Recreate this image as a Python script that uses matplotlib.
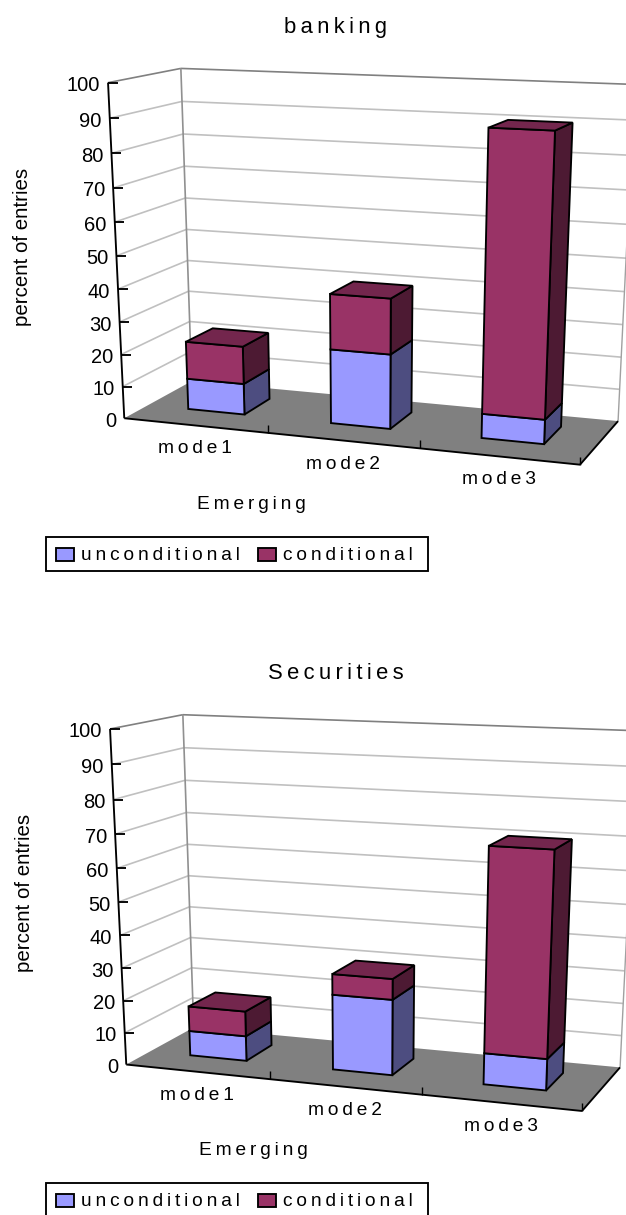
import numpy as np
import matplotlib
matplotlib.use("Agg")
import matplotlib.pyplot as plt
from matplotlib.patches import Polygon, Rectangle

plt.rcParams['font.family'] = ['Liberation Sans', 'DejaVu Sans']

modes = ["mode1", "mode2", "mode3"]
series_names = ["unconditional", "conditional"]
value_ticks = [0, 10, 20, 30, 40, 50, 60, 70, 80, 90, 100]

banking_unconditional = [9.7, 22.9, 7.4]
banking_conditional = [11.7, 16.8, 82.6]
securities_unconditional = [7.8, 23.2, 9.5]
securities_conditional = [7.8, 6.3, 60.6]

LIGHT = {"unconditional": "#9999FF", "conditional": "#993366"}
SIDE = {"unconditional": "#4D4D80", "conditional": "#4D1A33"}
TOP = {"unconditional": "#7373BF", "conditional": "#73264D"}

# box reference points: (u, v, w) -> pixel, u along modes, v up, w into the page
box_uvw = [(0, 0, 0), (1/3, 0, 0), (2/3, 0, 0), (1, 0, 0), (0, 1, 0), (0, .5, 0),
           (0, 1, 1), (0, .5, 1), (0, .2, 1), (0, 0, 1), (1, 0, 1), (1, 1, 1), (1, .5, 1)]
box_px = [(124, 418.3), (268.3, 433), (418.3, 448.3), (580.3, 465), (108.3, 82), (117, 256),
          (180, 68.3), (187.3, 230.3), (190, 320.7), (191, 381.5), (618.7, 420), (634.5, 84.4), (626, 259)]


def fit_projection(uvw, px):
    rows = []
    rhs = []
    for (u, v, w), (x, y) in zip(uvw, px):
        rows.append([u, v, w, 1, 0, 0, 0, 0, -x*u, -x*v, -x*w])
        rhs.append(x)
        rows.append([0, 0, 0, 0, u, v, w, 1, -y*u, -y*v, -y*w])
        rhs.append(y)
    sol = np.linalg.lstsq(np.array(rows), np.array(rhs), rcond=None)[0]
    return np.append(sol, 1.0).reshape(3, 4)


P = fit_projection(box_uvw, box_px)

BAR_WIDTH = 0.4 / 3
BAR_SHIFT = -0.0035
W_FRONT = 0.34
W_BACK = 0.75
LABEL_SIZE = 13.8
THIN = "\u2009"


def spaced(s):
    # wide tracking on the labels
    return THIN.join(s)


def draw_panel(ax, title, unconditional, conditional, dx, dy):
    def proj(u, v, w):
        x, y, d = P @ np.array([u, v, w, 1.0])
        return x / d + dx, y / d + dy

    def line(a, b, **kw):
        pa, pb = proj(*a), proj(*b)
        ax.plot([pa[0], pb[0]], [pa[1], pb[1]], solid_capstyle='butt', **kw)

    # walls
    for t in value_ticks[1:-1]:
        v = t / 100
        line((0, v, 0), (0, v, 1), color="#C0C0C0", lw=1.2, zorder=1)
        line((0, v, 1), (1, v, 1), color="#C0C0C0", lw=1.2, zorder=1)
    line((0, 1, 0), (0, 1, 1), color="#808080", lw=1.2, zorder=1)
    line((0, 1, 1), (1, 1, 1), color="#808080", lw=1.2, zorder=1)
    line((0, 0, 1), (0, 1, 1), color="#909090", lw=1.2, zorder=1)
    line((1, 0, 1), (1, 1, 1), color="#A0A0A0", lw=1.0, zorder=1)

    # floor
    floor = [proj(0, 0, 0), proj(1, 0, 0), proj(1, 0, 1), proj(0, 0, 1)]
    ax.add_patch(Polygon(floor, closed=True, fc="#808080", ec="none", zorder=2))

    # stacked bars
    for i in range(len(modes)):
        u0 = (i + 0.5) / 3 - BAR_WIDTH / 2 + BAR_SHIFT
        u1 = u0 + BAR_WIDTH
        base = 0.0
        for name, vals in zip(series_names, (unconditional, conditional)):
            top = base + vals[i] / 100
            front = [proj(u0, base, W_FRONT), proj(u1, base, W_FRONT),
                     proj(u1, top, W_FRONT), proj(u0, top, W_FRONT)]
            side = [proj(u1, base, W_FRONT), proj(u1, base, W_BACK),
                    proj(u1, top, W_BACK), proj(u1, top, W_FRONT)]
            for pts, col in ((side, SIDE[name]), (front, LIGHT[name])):
                ax.add_patch(Polygon(pts, closed=True, fc=col, ec="black", lw=1.35,
                                     joinstyle='miter', zorder=3))
            base = top
        lid = [proj(u0, base, W_FRONT), proj(u1, base, W_FRONT),
               proj(u1, base, W_BACK), proj(u0, base, W_BACK)]
        ax.add_patch(Polygon(lid, closed=True, fc=TOP["conditional"], ec="black", lw=1.35,
                             joinstyle='miter', zorder=3))

    # axes
    line((0, 0, 0), (0, 1, 0), color="black", lw=1.35, zorder=4)
    line((0, 0, 0), (1, 0, 0), color="black", lw=1.35, zorder=4)
    line((1, 0, 0), (1, 0, 1), color="black", lw=1.35, zorder=4)

    for t in value_ticks:
        x, y = proj(0, t / 100, 0)
        if t > 0:
            ax.plot([x, x + 9.5], [y, y], color="black", lw=1.35, solid_capstyle='butt', zorder=4)
        ax.text(x - 8, y + 3, str(t), ha='right', va='center', fontsize=14.5, color="black")

    for i in (1, 2, 3):
        x, y = proj(i / 3, 0, 0)
        ax.plot([x, x], [y, y - 8], color="black", lw=1.0, solid_capstyle='butt', zorder=4)

    for i, m in enumerate(modes):
        x, y = proj((i + 0.5) / 3, 0, 0)
        ax.text(x, y + 23.5, spaced(m), ha='center', va='center', fontsize=LABEL_SIZE)

    ax.text(336, 27.5 + dy, spaced(title), ha='center', va='center', fontsize=15.8)
    ax.text(251 + dx, 504.5 + dy, spaced("Emerging"), ha='center', va='center', fontsize=LABEL_SIZE)
    ax.text(23 + dx, 247 + dy, "percent of entries", rotation=90, ha='center', va='center',
            fontsize=14.8)

    # legend box
    ax.add_patch(Rectangle((46, 537 + dy), 382, 34, fc="white", ec="black", lw=1.35, zorder=5))
    for name, sx, tx in zip(series_names, (56, 258), (81, 283)):
        ax.add_patch(Rectangle((sx, 548 + dy), 18, 13, fc=LIGHT[name], ec="black", lw=1.35, zorder=6))
        ax.text(tx, 555.5 + dy, spaced(name), ha='left', va='center', fontsize=LABEL_SIZE, zorder=6)


fig = plt.figure(figsize=(6.26, 12.15), dpi=100)
ax = fig.add_axes([0, 0, 1, 1])
ax.set_xlim(0, 626)
ax.set_ylim(1215, 0)
ax.axis('off')

draw_panel(ax, "banking", banking_unconditional, banking_conditional, 0, 0)
draw_panel(ax, "Securities", securities_unconditional, securities_conditional, 2, 646.3)

fig.savefig("out.png", dpi=100, facecolor="white")
